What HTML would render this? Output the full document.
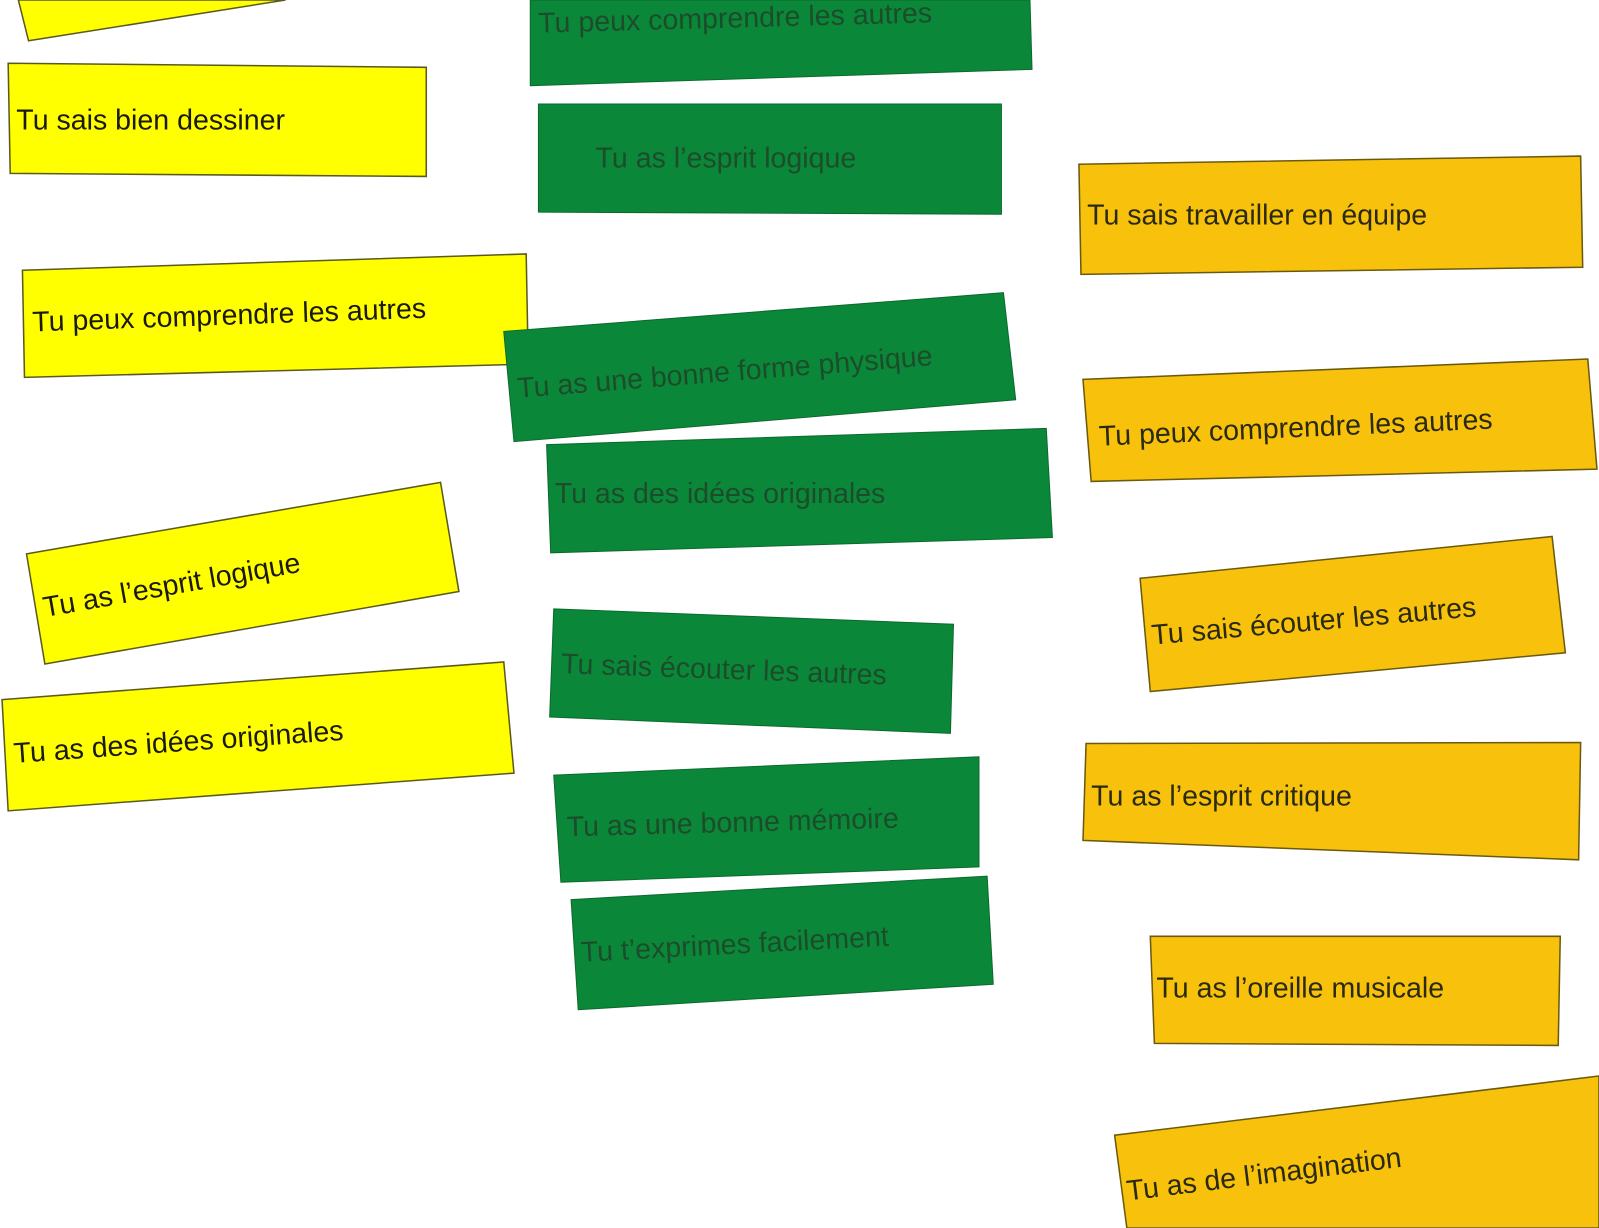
<!DOCTYPE html>
<html><head><meta charset="utf-8"><style>
html,body{margin:0;padding:0;background:#fff;width:1599px;height:1228px;overflow:hidden}
svg{display:block}
text{font-family:"Liberation Sans",sans-serif;font-size:28px}
.y{fill:#ffff00;stroke:#5a5a20;stroke-width:1.5}
.g{fill:#0b873a;stroke:#0a6a2c;stroke-width:1}
.o{fill:#f8c20c;stroke:#6a5a10;stroke-width:1.5}
.ty{fill:#1a1a10}
.tg{fill:#1c4d2a}
.to{fill:#2a2a10}
</style></head><body>
<svg width="1599" height="1228" viewBox="0 0 1568 1204" preserveAspectRatio="none">
<!-- yellow -->
<polygon class="y" points="18,0 280,0 28,40"/>
<polygon class="y" points="8,62 418,66 418,173 10,170"/>
<text class="ty" x="16" y="127">Tu sais bien dessiner</text>
<polygon class="y" points="22,265 516,249 518,357 24,370"/>
<text class="ty" x="32" y="325" transform="rotate(-2 32 325)">Tu peux comprendre les autres</text>
<polygon class="y" points="26,543 432,473 450,580 44,651"/>
<text class="ty" x="44" y="605" transform="rotate(-10 44 605)">Tu as l’esprit logique</text>
<polygon class="y" points="2,686 494,649 504,758 8,795"/>
<text class="ty" x="14" y="748" transform="rotate(-4 14 748)">Tu as des idées originales</text>
<!-- green -->
<polygon class="g" points="520,0 1010,0 1012,68 520,84"/>
<text class="tg" x="528" y="32" transform="rotate(-1.5 528 32)">Tu peux comprendre les autres</text>
<polygon class="g" points="528,102 982,102 982,210 528,208"/>
<text class="tg" x="584" y="164">Tu as l’esprit logique</text>
<polygon class="g" points="494,325 984,287 996,392 504,433"/>
<text class="tg" x="508" y="390" transform="rotate(-4.5 508 390)">Tu as une bonne forme physique</text>
<polygon class="g" points="536,436 1026,420 1032,527 540,542"/>
<text class="tg" x="544" y="493">Tu as des idées originales</text>
<polygon class="g" points="543,597 935,612 932,719 539,703"/>
<text class="tg" x="550" y="660" transform="rotate(2 550 660)">Tu sais écouter les autres</text>
<polygon class="g" points="543,760 960,742 960,850 550,865"/>
<text class="tg" x="556" y="820" transform="rotate(-1.5 556 820)">Tu as une bonne mémoire</text>
<polygon class="g" points="560,882 968,859 974,965 567,990"/>
<text class="tg" x="570" y="943" transform="rotate(-3 570 943)">Tu t’exprimes facilement</text>
<!-- orange -->
<polygon class="o" points="1058,161 1550,153 1552,262 1060,269"/>
<text class="to" x="1066" y="220">Tu sais travailler en équipe</text>
<polygon class="o" points="1062,372 1557,352 1566,460 1070,472"/>
<text class="to" x="1078" y="437" transform="rotate(-2.5 1078 437)">Tu peux comprendre les autres</text>
<polygon class="o" points="1118,567 1522,526 1535,640 1128,678"/>
<text class="to" x="1130" y="632" transform="rotate(-5 1130 632)">Tu sais écouter les autres</text>
<polygon class="o" points="1065,729 1550,728 1548,843 1062,824"/>
<text class="to" x="1070" y="790">Tu as l’esprit critique</text>
<polygon class="o" points="1128,918 1530,918 1528,1025 1132,1023"/>
<text class="to" x="1134" y="978">Tu as l’oreille musicale</text>
<polygon class="o" points="1093,1113 1568,1055 1568,1204 1105,1204"/>
<text class="to" x="1106" y="1177" transform="rotate(-7 1106 1177)">Tu as de l’imagination</text>
</svg>
</body></html>
